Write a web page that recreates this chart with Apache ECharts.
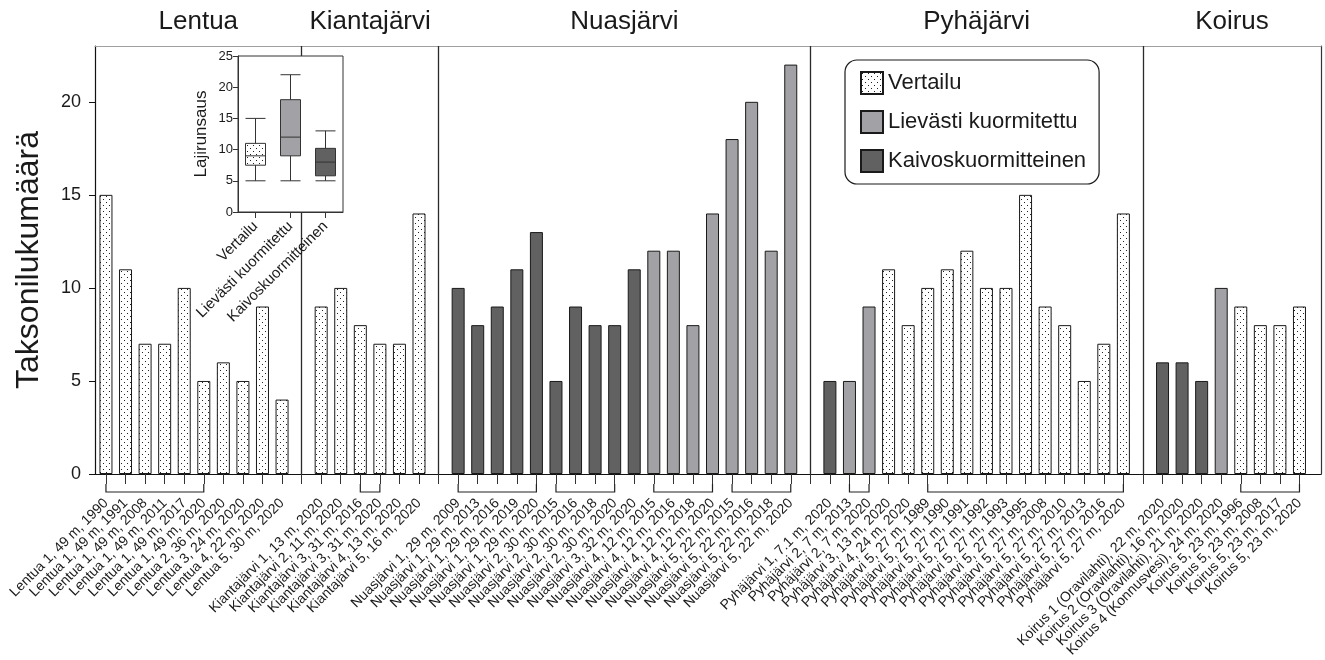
<!DOCTYPE html>
<html><head><meta charset="utf-8">
<script src="https://cdn.jsdelivr.net/npm/echarts@6/dist/echarts.min.js"></script>
<style>html,body{margin:0;padding:0;background:#fff}#c{width:1325px;height:660px}</style>
</head><body><div id="c"></div>
<script>
const seriesNames = ['Vertailu', 'Lievästi kuormitettu', 'Kaivoskuormitteinen'];
// '' marks a divider slot between lakes
const categories = [
 'Lentua 1, 49 m, 1990','Lentua 1, 49 m, 1991','Lentua 1, 49 m, 2008','Lentua 1, 49 m, 2011','Lentua 1, 49 m, 2017','Lentua 1, 49 m, 2020','Lentua 2, 36 m, 2020','Lentua 3, 24 m, 2020','Lentua 4, 22 m, 2020','Lentua 5, 30 m, 2020',
 '',
 'Kiantajärvi 1, 13 m, 2020','Kiantajärvi 2, 11 m, 2020','Kiantajärvi 3, 31 m, 2016','Kiantajärvi 3, 31 m, 2020','Kiantajärvi 4, 13 m, 2020','Kiantajärvi 5, 16 m, 2020',
 '',
 'Nuasjärvi 1, 29 m, 2009','Nuasjärvi 1, 29 m, 2013','Nuasjärvi 1, 29 m, 2016','Nuasjärvi 1, 29 m, 2019','Nuasjärvi 1, 29 m, 2020','Nuasjärvi 2, 30 m, 2015','Nuasjärvi 2, 30 m, 2016','Nuasjärvi 2, 30 m, 2018','Nuasjärvi 2, 30 m, 2020','Nuasjärvi 3, 32 m, 2020','Nuasjärvi 4, 12 m, 2015','Nuasjärvi 4, 12 m, 2016','Nuasjärvi 4, 12 m, 2018','Nuasjärvi 4, 12 m, 2020','Nuasjärvi 5, 22 m, 2015','Nuasjärvi 5, 22 m, 2016','Nuasjärvi 5, 22 m, 2018','Nuasjärvi 5, 22 m, 2020',
 '',
 'Pyhäjärvi 1, 7.1 m, 2020','Pyhäjärvi 2, 7 m, 2013','Pyhäjärvi 2, 7 m, 2020','Pyhäjärvi 3, 13 m, 2020','Pyhäjärvi 4, 24 m, 2020','Pyhäjärvi 5, 27 m, 1989','Pyhäjärvi 5, 27 m, 1990','Pyhäjärvi 5, 27 m, 1991','Pyhäjärvi 5, 27 m, 1992','Pyhäjärvi 5, 27 m, 1993','Pyhäjärvi 5, 27 m, 1995','Pyhäjärvi 5, 27 m, 2008','Pyhäjärvi 5, 27 m, 2010','Pyhäjärvi 5, 27 m, 2013','Pyhäjärvi 5, 27 m, 2016','Pyhäjärvi 5, 27 m, 2020',
 '',
 'Koirus 1 (Oravilahti), 22 m, 2020','Koirus 2 (Oravilahti), 16 m, 2020','Koirus 3 (Oravilahti), 21 m, 2020','Koirus 4 (Konnusvesi), 24 m, 2020','Koirus 5, 23 m, 1996','Koirus 5, 23 m, 2008','Koirus 5, 23 m, 2017','Koirus 5, 23 m, 2020'
];
const values = [
 15,11,7,7,10,5,6,5,9,4,
 null,
 9,10,8,7,7,14,
 null,
 10,8,9,11,13,5,9,8,8,11,12,12,8,14,18,20,12,22,
 null,
 5,5,9,11,8,10,11,12,10,10,15,9,8,5,7,14,
 null,
 6,6,5,10,9,8,8,9
];
// 0 = Vertailu, 1 = Lievästi kuormitettu, 2 = Kaivoskuormitteinen
const groupOf = [
 0,0,0,0,0,0,0,0,0,0,
 null,
 0,0,0,0,0,0,
 null,
 2,2,2,2,2,2,2,2,2,2,1,1,1,1,1,1,1,1,
 null,
 2,1,1,0,0,0,0,0,0,0,0,0,0,0,0,0,
 null,
 2,2,2,1,0,0,0,0
];
const lakeNames = ['Lentua', 'Kiantajärvi', 'Nuasjärvi', 'Pyhäjärvi', 'Koirus'];
const dividerIdx = [10, 17, 36, 53];
const brackets = [[0,5],[13,14],[18,22],[23,26],[28,31],[32,35],[38,39],[42,52],[58,61]];
const yTicks = [0, 5, 10, 15, 20];
const yMax = 23;
// inset box plot: [min, Q1, median, Q3, max]
const boxStats = [[5, 7.5, 9, 11, 15], [5, 9, 12, 18, 22], [5, 5.8, 8, 10.2, 13]];
const boxTicks = [0, 5, 10, 15, 20, 25];

const FONT = "'Liberation Sans', Arial, Helvetica, sans-serif";
const INK = '#1a1a1a';
const xMin = -0.56, xMax = 62.1;

function dotCanvas() {
  const c = document.createElement('canvas');
  c.width = 6; c.height = 6;
  const g = c.getContext('2d');
  g.fillStyle = '#ffffff'; g.fillRect(0, 0, 6, 6);
  g.fillStyle = '#222222';
  g.fillRect(1, 1, 1, 1);
  g.fillRect(4, 4, 1, 1);
  return c;
}
const dots = { image: dotCanvas(), repeat: 'repeat' };
const fills = [dots, '#a2a2a6', '#616161'];

const idx = categories.map((_, i) => i);
const bounds = [xMin].concat(dividerIdx, [xMax]);
const titleData = lakeNames.map((n, i) => [(bounds[i] + bounds[i + 1]) / 2]);

const barSeries = seriesNames.map((name, k) => ({
  name, type: 'bar', xAxisIndex: 0, yAxisIndex: 0,
  barWidth: 13, barGap: '-100%',
  itemStyle: { color: fills[k], borderColor: '#1a1a1a', borderWidth: 1 },
  data: values.map((v, i) => groupOf[i] === k ? [i, v] : null).filter(d => d),
  z: 3
}));
barSeries[0].markLine = {
  silent: true, symbol: 'none', label: { show: false },
  lineStyle: { color: '#2a2a2a', width: 1.3, type: 'solid' },
  data: dividerIdx.map(d => ({ xAxis: d })),
  animation: false
};

const option = {
  animation: false,
  textStyle: { fontFamily: FONT, color: INK },
  grid: [
    { left: 95, top: 46, width: 1226, bottom: 186 },
    { left: 238, top: 56, width: 105, height: 156, show: true, backgroundColor: '#fff', borderColor: '#333', borderWidth: 1, z: 10 }
  ],
  legend: {
    data: seriesNames, orient: 'vertical', left: 845, top: 60,
    itemWidth: 22, itemHeight: 22, itemGap: 15,
    padding: [11, 13, 11, 15],
    borderColor: '#1a1a1a', borderWidth: 1.2, borderRadius: 12,
    backgroundColor: '#fff',
    selectedMode: false, icon: 'rect',
    textStyle: { fontSize: 22, color: INK, fontFamily: FONT }
  },
  xAxis: [
    { type: 'value', gridIndex: 0, min: xMin, max: xMax, position: 'bottom',
      axisLine: { show: true, onZero: false, lineStyle: { color: '#111', width: 1.2 } },
      axisTick: { show: true, length: 10, customValues: idx, lineStyle: { color: '#333' } },
      axisLabel: { customValues: idx, rotate: 45, margin: 27, fontSize: 14, color: INK, fontFamily: FONT,
        formatter: v => categories[Math.round(v)] || '' },
      splitLine: { show: false } },
    { type: 'value', gridIndex: 0, min: xMin, max: xMax, position: 'top',
      axisLine: { show: true, onZero: false, lineStyle: { color: '#a0a0a0', width: 1.2 } },
      axisTick: { show: false }, axisLabel: { show: false }, splitLine: { show: false } },
    { type: 'category', gridIndex: 1, data: seriesNames, z: 12,
      axisLine: { show: true, onZero: false, lineStyle: { color: '#333' } },
      axisTick: { show: true, alignWithLabel: true, length: 6, lineStyle: { color: '#333' } },
      axisLabel: { rotate: 45, margin: 12, fontSize: 15, color: INK, fontFamily: FONT, interval: 0 } }
  ],
  yAxis: [
    { type: 'value', gridIndex: 0, min: 0, max: yMax, position: 'left',
      name: 'Taksonilukumäärä', nameLocation: 'middle', nameGap: 50,
      nameTextStyle: { fontSize: 32, color: INK, fontFamily: FONT },
      axisLine: { show: true, onZero: false, lineStyle: { color: '#111', width: 1.2 } },
      axisTick: { show: true, length: 6, customValues: yTicks, lineStyle: { color: '#111' } },
      axisLabel: { customValues: yTicks, fontSize: 18, margin: 14, color: INK, fontFamily: FONT },
      splitLine: { show: false } },
    { type: 'value', gridIndex: 0, min: 0, max: yMax, position: 'right',
      axisLine: { show: true, onZero: false, lineStyle: { color: '#333', width: 1.2 } },
      axisTick: { show: false }, axisLabel: { show: false }, splitLine: { show: false } },
    { type: 'value', gridIndex: 1, min: 0, max: 25, interval: 5, z: 12,
      name: 'Lajirunsaus', nameLocation: 'middle', nameGap: 28,
      nameTextStyle: { fontSize: 17, color: INK, fontFamily: FONT },
      axisLine: { show: true, onZero: false, lineStyle: { color: '#333' } },
      axisTick: { show: true, length: 5, customValues: boxTicks, lineStyle: { color: '#333' } },
      axisLabel: { customValues: boxTicks, fontSize: 13, margin: 5, color: INK, fontFamily: FONT },
      splitLine: { show: false } }
  ],
  series: barSeries.concat([
    { type: 'custom', name: 'brackets', xAxisIndex: 0, yAxisIndex: 0, clip: false, silent: true, z: 4,
      data: brackets,
      renderItem: (params, api) => {
        const a = api.coord([api.value(0), 0]);
        const b = api.coord([api.value(1), 0]);
        return { type: 'polyline', shape: { points: [[a[0], a[1] + 10], [a[0], a[1] + 18], [b[0], b[1] + 18], [b[0], b[1] + 10]] },
          style: { stroke: '#222', lineWidth: 1.2, fill: null } };
      } },
    { type: 'custom', name: 'lakes', xAxisIndex: 0, yAxisIndex: 0, clip: false, silent: true, z: 4,
      data: titleData,
      renderItem: (params, api) => {
        const p = api.coord([api.value(0), yMax]);
        return { type: 'text', x: p[0], y: p[1] - 24,
          style: { text: lakeNames[params.dataIndex], fontSize: 26, fontFamily: FONT, fill: INK, align: 'center', verticalAlign: 'middle' } };
      } },
    { type: 'boxplot', xAxisIndex: 2, yAxisIndex: 2, z: 12, boxWidth: [20, 20],
      data: boxStats.map((s, k) => ({ value: s, itemStyle: { color: fills[k], borderColor: '#333', borderWidth: 1 } })) }
  ])
};
const chart = echarts.init(document.getElementById('c'), null, { renderer: 'canvas' });
chart.setOption(option);
</script></body></html>
